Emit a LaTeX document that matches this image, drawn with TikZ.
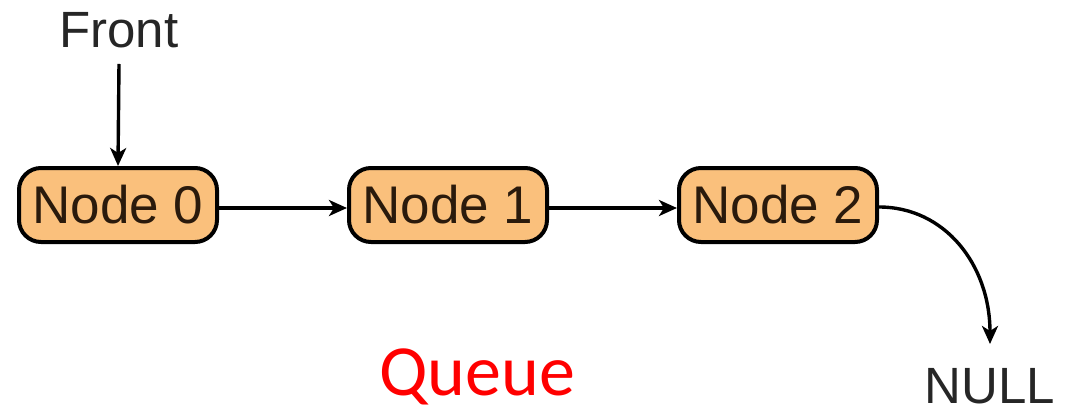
\documentclass[tikz,border=0pt]{standalone}
\usepackage{fontspec}
\setmainfont{Liberation Sans}
\newfontfamily\calibrifont{Carlito}
\usetikzlibrary{arrows.meta}
\definecolor{boxfill}{HTML}{FAC07C}
\definecolor{boxtext}{HTML}{2A1A0C}
\tikzset{
  qnode/.style={draw=black, line width=4pt, fill=boxfill, rounded corners=22pt,
    minimum width=198pt, minimum height=74pt, inner sep=0pt,
    font=\fontsize{53}{60}\selectfont, text=boxtext},
  link/.style={line width=3.4pt, -{Stealth[length=18pt,width=16pt,inset=5pt]}},
  label/.style={font=\fontsize{51}{58}\selectfont, text=black!85, inner sep=0pt}
}
\begin{document}
\begin{tikzpicture}[x=1pt,y=-1pt]
  \useasboundingbox (0,0) rectangle (1066,412);
  % queue elements
  \node[qnode] (n0) at (118,205) {Node 0};
  \node[qnode] (n1) at (448,205) {Node 1};
  \node[qnode] (n2) at (778,205) {Node 2};
  % labels
  \node[label] (front) at (119,30) {Front};
  \node[label, anchor=base, text depth=0pt] (null) at (990,403) {NULL};
  \node[font=\calibrifont\fontsize{72}{80}\selectfont, text=red, inner sep=0pt,
    anchor=base, text depth=0pt] (title) at (477,395) {Queue};
  % connectors
  \draw[link] (front.south) ++(0,16) coordinate (fs) -- (n0.north);
  \draw[link] ([yshift=-3pt]n0.east) -- ([yshift=-3pt]n1.west);
  \draw[link] ([yshift=-3pt]n1.east) -- ([yshift=-3pt]n2.west);
  \coordinate (nulltop) at (990,344);
  \draw[link] ([yshift=-2pt]n2.east) .. controls (945,207) and (990,265) .. (nulltop);
\end{tikzpicture}
\end{document}
